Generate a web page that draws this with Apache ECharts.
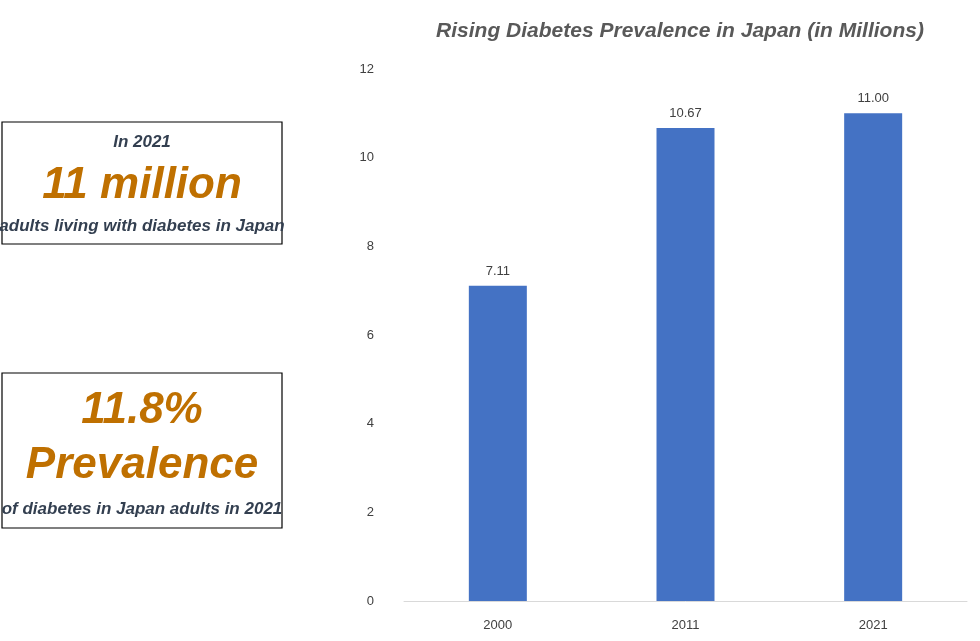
<!DOCTYPE html>
<html><head><meta charset="utf-8">
<script src="https://cdn.jsdelivr.net/npm/echarts@6/dist/echarts.min.js"></script>
<style>html,body{margin:0;padding:0;background:#fff}#c{width:980px;height:641px}</style>
</head><body><div id="c"></div>
<script>
const categories = ["2000", "2011", "2021"];
const values = [7.11, 10.67, 11.00];
const yTicks = [0, 2, 4, 6, 8, 10, 12];
const FN = "'Liberation Sans Narrow','Arial Narrow','Liberation Sans',sans-serif";
const dark = "#333F50", orange = "#BF7000";
const chart = echarts.init(document.getElementById('c'));
chart.setOption({
  animation: false,
  title: { text: "Rising Diabetes Prevalence in Japan (in Millions)", left: 675, top: 16, textAlign: 'center',
    textStyle: { fontFamily: FN, fontStyle: 'italic', fontWeight: 'bold', fontSize: 21, color: '#595959' } },
  grid: { left: 404, right: 13, top: 69, bottom: 40 },
  xAxis: { type: 'category', data: categories,
    axisLine: { lineStyle: { color: '#D9D9D9' } }, axisTick: { show: false },
    axisLabel: { color: '#404040', fontSize: 13, margin: 18, fontFamily: FN } },
  yAxis: { type: 'value', min: yTicks[0], max: yTicks[yTicks.length-1], interval: 2,
    axisLine: { show: false }, axisTick: { show: false }, splitLine: { show: false },
    axisLabel: { color: '#404040', fontSize: 13, margin: 30, fontFamily: FN } },
  series: [{ type: 'bar', data: values, barWidth: 58, itemStyle: { color: '#4472C4' },
    label: { show: true, position: 'top', distance: 8, color: '#404040', fontSize: 13, fontFamily: FN,
      formatter: p => p.value.toFixed(2) } }],
  graphic: [
    { type: 'rect', shape: { x: 2, y: 122, width: 280, height: 122 }, style: { fill: '#fff', stroke: '#000', lineWidth: 1.2 } },
    { type: 'text', x: 142, y: 142, style: { text: 'In 2021', align: 'center', verticalAlign: 'middle', fill: dark, font: `italic bold 17px ${FN}` } },
    { type: 'text', x: 142, y: 186, style: { text: '11 million', align: 'center', verticalAlign: 'middle', fill: orange, font: `italic bold 44px ${FN}` } },
    { type: 'text', x: 142, y: 226, style: { text: 'adults living with diabetes in Japan', align: 'center', verticalAlign: 'middle', fill: dark, font: `italic bold 17px ${FN}` } },
    { type: 'rect', shape: { x: 2, y: 373, width: 280, height: 155 }, style: { fill: '#fff', stroke: '#000', lineWidth: 1.2 } },
    { type: 'text', x: 142, y: 411, style: { text: '11.8%', align: 'center', verticalAlign: 'middle', fill: orange, font: `italic bold 44px ${FN}` } },
    { type: 'text', x: 142, y: 466, style: { text: 'Prevalence', align: 'center', verticalAlign: 'middle', fill: orange, font: `italic bold 44px ${FN}` } },
    { type: 'text', x: 142, y: 509, style: { text: 'of diabetes in Japan adults in 2021', align: 'center', verticalAlign: 'middle', fill: dark, font: `italic bold 17px ${FN}` } }
  ]
});
</script></body></html>
